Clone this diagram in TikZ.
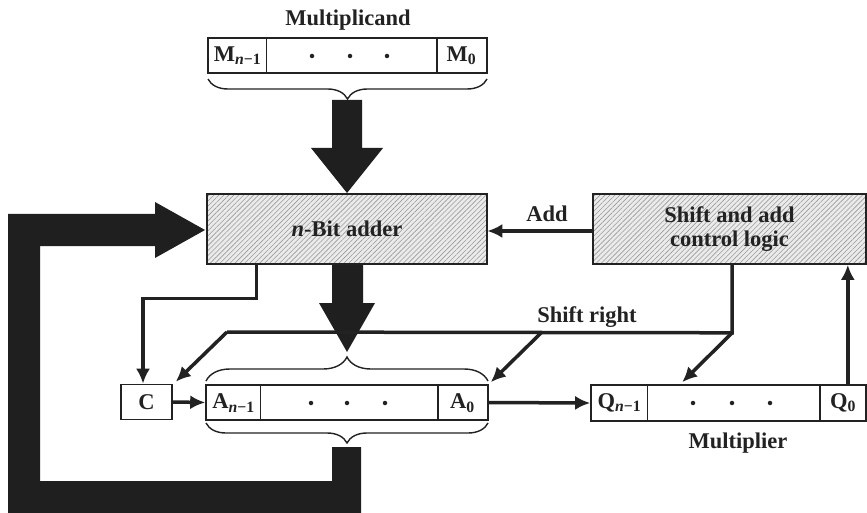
\documentclass[tikz,border=0pt]{standalone}
\usepackage{fontspec}
\setmainfont{Liberation Serif}
\usetikzlibrary{arrows.meta,decorations.pathreplacing,patterns.meta,calc}
\definecolor{ink}{HTML}{222222}
\definecolor{hatchbg}{HTML}{EBEBEB}
\definecolor{hatchln}{HTML}{9A9A9A}
\begin{document}
\begin{tikzpicture}[x=1pt,y=-1pt,
  lbl/.style={font=\fontsize{22.5}{24}\selectfont\bfseries, text=ink, inner sep=0pt},
  hbox/.style={draw=ink, line width=1.6pt, preaction={fill=hatchbg},
    pattern={Lines[angle=45,distance=3.5pt,line width=0.6pt]}, pattern color=hatchln,
    align=center, lbl},
  reg/.style={draw=ink, line width=1.6pt, fill=white, inner sep=0pt},
  divider/.style={draw=ink, line width=1.4pt},
  thin/.style={draw=ink, line width=3.5pt, -{Latex[length=15pt,width=14pt]}},
  wire/.style={draw=ink, line width=3.5pt},
  brc/.style={draw=ink, line width=1.4pt, decorate, decoration={brace, amplitude=20pt}},
  fat/.style={fill=ink!90!black},
  dotmark/.style={fill=ink, circle, inner sep=0pt, minimum size=4.5pt}
]
\useasboundingbox (0,0) rectangle (867,513);
\fill[white] (0,0) rectangle (867,513);

% ---------- thick data paths (drawn first) ----------
\fill[fat] (332,100) -- (362,100) -- (362,148) -- (383,148) -- (347,193) -- (311,148) -- (332,148) -- cycle;
\fill[fat] (332,264) -- (363,264) -- (363,303) -- (375,303) -- (347,352) -- (319,303) -- (332,303) -- cycle;
\fill[fat] (332,447) -- (361,447) -- (361,513) -- (8,513) -- (8,214) -- (155,214) -- (155,202)
   -- (205,230) -- (155,258) -- (155,246) -- (40,246) -- (40,481) -- (332,481) -- cycle;

% ---------- blocks ----------
\node[hbox, minimum width=280pt, minimum height=70pt] (adder) at (347,229) {\textit{n}-Bit adder};
\node[hbox, minimum width=273pt, minimum height=70pt] (ctrl) at (729.5,229) {Shift and add\\control logic};

% Multiplicand register
\node[lbl] (mlab) at (348,20) {Multiplicand};
\node[reg, minimum width=279pt, minimum height=35pt] (mreg) at (347.5,55.5) {};
\draw[divider] ($(mreg.north west)+(59,0)$) -- ($(mreg.south west)+(59,0)$);
\draw[divider] ($(mreg.north east)+(-51,0)$) -- ($(mreg.south east)+(-51,0)$);
\node[lbl] (mn) at (237.5,56) {M\textsubscript{\textit{n}−1}};
\node[lbl] (m0) at (461.5,56) {M\textsubscript{0}};
\node[dotmark] (md1) at (312,56) {};
\node[dotmark] (md2) at (350,56) {};
\node[dotmark] (md3) at (387,56) {};
\draw[brc] (487,79) -- (208,79);

% C register
\node[reg, lbl, minimum width=51pt, minimum height=35pt] (C) at (146.5,402) {C};

% A register
\node[reg, minimum width=282pt, minimum height=35pt] (areg) at (347,402.5) {};
\draw[divider] ($(areg.north west)+(55,0)$) -- ($(areg.south west)+(55,0)$);
\draw[divider] ($(areg.north east)+(-51,0)$) -- ($(areg.south east)+(-51,0)$);
\node[lbl] (an) at (233.5,403) {A\textsubscript{\textit{n}−1}};
\node[lbl] (a0) at (462.5,403) {A\textsubscript{0}};
\node[dotmark] (ad1) at (311,403) {};
\node[dotmark] (ad2) at (347,403) {};
\node[dotmark] (ad3) at (385,403) {};
\draw[brc, decoration={amplitude=24pt}] (206,381) -- (488,381);
\draw[brc] (488,423) -- (206,423);

% Q register
\node[reg, minimum width=275pt, minimum height=36pt] (qreg) at (728.5,403) {};
\draw[divider] ($(qreg.north west)+(57,0)$) -- ($(qreg.south west)+(57,0)$);
\draw[divider] ($(qreg.north east)+(-47,0)$) -- ($(qreg.south east)+(-47,0)$);
\node[lbl] (qn) at (619.5,403) {Q\textsubscript{\textit{n}−1}};
\node[lbl] (q0) at (843,403) {Q\textsubscript{0}};
\node[dotmark] (qd1) at (693,403) {};
\node[dotmark] (qd2) at (732,403) {};
\node[dotmark] (qd3) at (770,403) {};
\node[lbl] (qlab) at (738,443) {Multiplier};

% ---------- control / thin connectors ----------
\coordinate (addout) at ($(adder.south west)+(50,0)$);
\coordinate (cin) at ($(C.north)+(-3.5,0)$);
\draw[thin] (addout) -- ++(0,34) -| (cin);

\node[lbl] (addlab) at (547,214) {Add};
\draw[thin] (ctrl.west |- 0,231) -- (adder.east |- 0,231);

\coordinate (ctrlout) at ($(ctrl.south west)+(140,0)$);
\coordinate (srcorner) at ($(ctrlout)+(0,68)$);
\coordinate (srleft) at (227,332);
\coordinate (srA) at (542,332);
\node[lbl] (srlab) at (587,317) {Shift right};
\draw[wire] (ctrlout) -- (srcorner) -- (srleft);
\draw[thin] (srleft) -- ($(C.north east)+(3,-2)$);
\draw[thin] (srA) -- ($(areg.north east)+(2,-2)$);
\draw[thin] (srcorner) -- ($(qreg.north west)+(92,-2)$);

\draw[thin] (C.east) -- (areg.west);
\draw[thin] (areg.east) -- (qreg.west);
\draw[thin] ($(qreg.north east)+(-19,0)$) -- ($(ctrl.south east)+(-19,0)$);
\end{tikzpicture}
\end{document}
